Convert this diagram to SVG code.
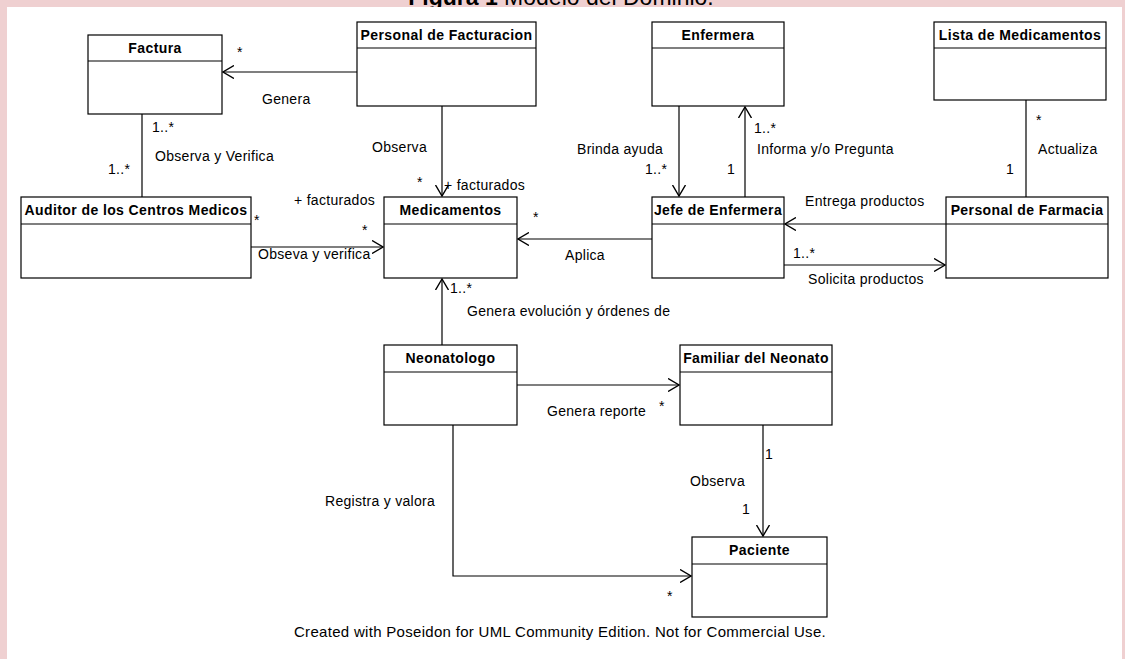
<svg xmlns="http://www.w3.org/2000/svg" width="1125" height="659" viewBox="0 0 1125 659">
  <style>
    .box { fill: #ffffff; stroke: #000000; stroke-width: 1.2; }
    .sep { stroke: #000000; stroke-width: 1.2; }
    .name { font-family: "Liberation Sans", Arial, sans-serif; font-size: 14px; letter-spacing: 0.4px; font-weight: bold; text-anchor: middle; fill: #000; }
    .lbl { font-family: "Liberation Sans", Arial, sans-serif; font-size: 14px; letter-spacing: 0.3px; fill: #000; }
    .edge { fill: none; stroke: #000000; stroke-width: 1.2; }
    .title { font-family: "Liberation Sans", Arial, sans-serif; font-size: 23px; fill: #000; text-anchor: middle; }
    .foot { font-family: "Liberation Sans", Arial, sans-serif; font-size: 15px; letter-spacing: 0.3px; fill: #000; text-anchor: middle; }
  </style>
  <defs>
    <marker id="open" viewBox="0 0 12 14" refX="11" refY="7" markerWidth="12" markerHeight="14" markerUnits="userSpaceOnUse" orient="auto">
      <path d="M0,0.5 L11,7 L0,13.5" fill="none" stroke="#000" stroke-width="1.4"/>
    </marker>
  </defs>

  <!-- frame -->
  <rect x="0" y="0" width="1125" height="659" fill="#efd0d1"/>
  <text class="title" x="561" y="5"><tspan font-weight="bold">Figura 1</tspan> Modelo del Dominio.</text>
  <rect x="7" y="7" width="1115" height="652" fill="#ffffff"/>

  <!-- connectors -->
  <g id="connectors">
    <line class="edge" x1="357" y1="72" x2="223" y2="72" marker-end="url(#open)"/>
    <line class="edge" x1="142" y1="114" x2="142" y2="197"/>
    <line class="edge" x1="442" y1="106" x2="442" y2="196" marker-end="url(#open)"/>
    <line class="edge" x1="251" y1="247" x2="383" y2="247" marker-end="url(#open)"/>
    <line class="edge" x1="652" y1="239" x2="518" y2="239" marker-end="url(#open)"/>
    <line class="edge" x1="679" y1="106" x2="679" y2="196" marker-end="url(#open)"/>
    <line class="edge" x1="745" y1="197" x2="745" y2="107" marker-end="url(#open)"/>
    <line class="edge" x1="1026" y1="100" x2="1026" y2="197"/>
    <line class="edge" x1="946" y1="224" x2="785" y2="224" marker-end="url(#open)"/>
    <line class="edge" x1="784" y1="265" x2="945" y2="265" marker-end="url(#open)"/>
    <line class="edge" x1="442" y1="345" x2="442" y2="279" marker-end="url(#open)"/>
    <line class="edge" x1="517" y1="385" x2="679" y2="385" marker-end="url(#open)"/>
    <line class="edge" x1="763" y1="425" x2="763" y2="536" marker-end="url(#open)"/>
    <polyline class="edge" points="453,425 453,576 691,576" marker-end="url(#open)"/>

    <text class="lbl" x="237" y="57">*</text>
    <text class="lbl" x="262" y="104">Genera</text>
    <text class="lbl" x="152" y="132">1..*</text>
    <text class="lbl" x="155" y="161">Observa y Verifica</text>
    <text class="lbl" x="108" y="174">1..*</text>
    <text class="lbl" x="372" y="152">Observa</text>
    <text class="lbl" x="417" y="187">*</text>
    <text class="lbl" x="444" y="190">+ facturados</text>
    <text class="lbl" x="294" y="205">+ facturados</text>
    <text class="lbl" x="254" y="225">*</text>
    <text class="lbl" x="362" y="235">*</text>
    <text class="lbl" x="258" y="259">Obseva y verifica</text>
    <text class="lbl" x="533" y="222">*</text>
    <text class="lbl" x="565" y="260">Aplica</text>
    <text class="lbl" x="577" y="154">Brinda ayuda</text>
    <text class="lbl" x="645" y="174">1..*</text>
    <text class="lbl" x="754" y="133">1..*</text>
    <text class="lbl" x="757" y="154">Informa y/o Pregunta</text>
    <text class="lbl" x="727" y="174">1</text>
    <text class="lbl" x="1036" y="125">*</text>
    <text class="lbl" x="1038" y="154">Actualiza</text>
    <text class="lbl" x="1006" y="174">1</text>
    <text class="lbl" x="805" y="206">Entrega productos</text>
    <text class="lbl" x="793" y="258">1..*</text>
    <text class="lbl" x="808" y="284">Solicita productos</text>
    <text class="lbl" x="450" y="293">1..*</text>
    <text class="lbl" x="467" y="316">Genera evolución y órdenes de</text>
    <text class="lbl" x="547" y="416">Genera reporte</text>
    <text class="lbl" x="659" y="411">*</text>
    <text class="lbl" x="765" y="459">1</text>
    <text class="lbl" x="690" y="486">Observa</text>
    <text class="lbl" x="742" y="514">1</text>
    <text class="lbl" x="325" y="506">Registra y valora</text>
    <text class="lbl" x="667" y="601">*</text>
  </g>

  <!-- classes -->
  <g id="factura">
    <rect class="box" x="88" y="35" width="134" height="79"/>
    <line class="sep" x1="88" y1="61" x2="222" y2="61"/>
    <text class="name" x="155" y="53">Factura</text>
  </g>
  <g id="personal-facturacion">
    <rect class="box" x="357" y="22" width="179" height="84"/>
    <line class="sep" x1="357" y1="48" x2="536" y2="48"/>
    <text class="name" x="446.5" y="40">Personal de Facturacion</text>
  </g>
  <g id="enfermera">
    <rect class="box" x="652" y="22" width="132" height="84"/>
    <line class="sep" x1="652" y1="48" x2="784" y2="48"/>
    <text class="name" x="718" y="40">Enfermera</text>
  </g>
  <g id="lista-medicamentos">
    <rect class="box" x="934" y="22" width="172" height="78"/>
    <line class="sep" x1="934" y1="48" x2="1106" y2="48"/>
    <text class="name" x="1020" y="40">Lista de Medicamentos</text>
  </g>
  <g id="auditor">
    <rect class="box" x="21" y="197" width="230" height="81"/>
    <line class="sep" x1="21" y1="224" x2="251" y2="224"/>
    <text class="name" x="136" y="215">Auditor de los Centros Medicos</text>
  </g>
  <g id="medicamentos">
    <rect class="box" x="384" y="197" width="133" height="81"/>
    <line class="sep" x1="384" y1="224" x2="517" y2="224"/>
    <text class="name" x="450.5" y="215">Medicamentos</text>
  </g>
  <g id="jefe-enfermera">
    <rect class="box" x="652" y="197" width="132" height="81"/>
    <line class="sep" x1="652" y1="224" x2="784" y2="224"/>
    <text class="name" x="718" y="215">Jefe de Enfermera</text>
  </g>
  <g id="personal-farmacia">
    <rect class="box" x="946" y="197" width="162" height="81"/>
    <line class="sep" x1="946" y1="224" x2="1108" y2="224"/>
    <text class="name" x="1027" y="215">Personal de Farmacia</text>
  </g>
  <g id="neonatologo">
    <rect class="box" x="384" y="345" width="133" height="80"/>
    <line class="sep" x1="384" y1="372" x2="517" y2="372"/>
    <text class="name" x="450.5" y="363">Neonatologo</text>
  </g>
  <g id="familiar-neonato">
    <rect class="box" x="680" y="345" width="152" height="80"/>
    <line class="sep" x1="680" y1="372" x2="832" y2="372"/>
    <text class="name" x="756" y="363">Familiar del Neonato</text>
  </g>
  <g id="paciente">
    <rect class="box" x="692" y="537" width="135" height="80"/>
    <line class="sep" x1="692" y1="564" x2="827" y2="564"/>
    <text class="name" x="759.5" y="555">Paciente</text>
  </g>

  <text class="foot" x="560" y="637">Created with Poseidon for UML Community Edition. Not for Commercial Use.</text>
</svg>
